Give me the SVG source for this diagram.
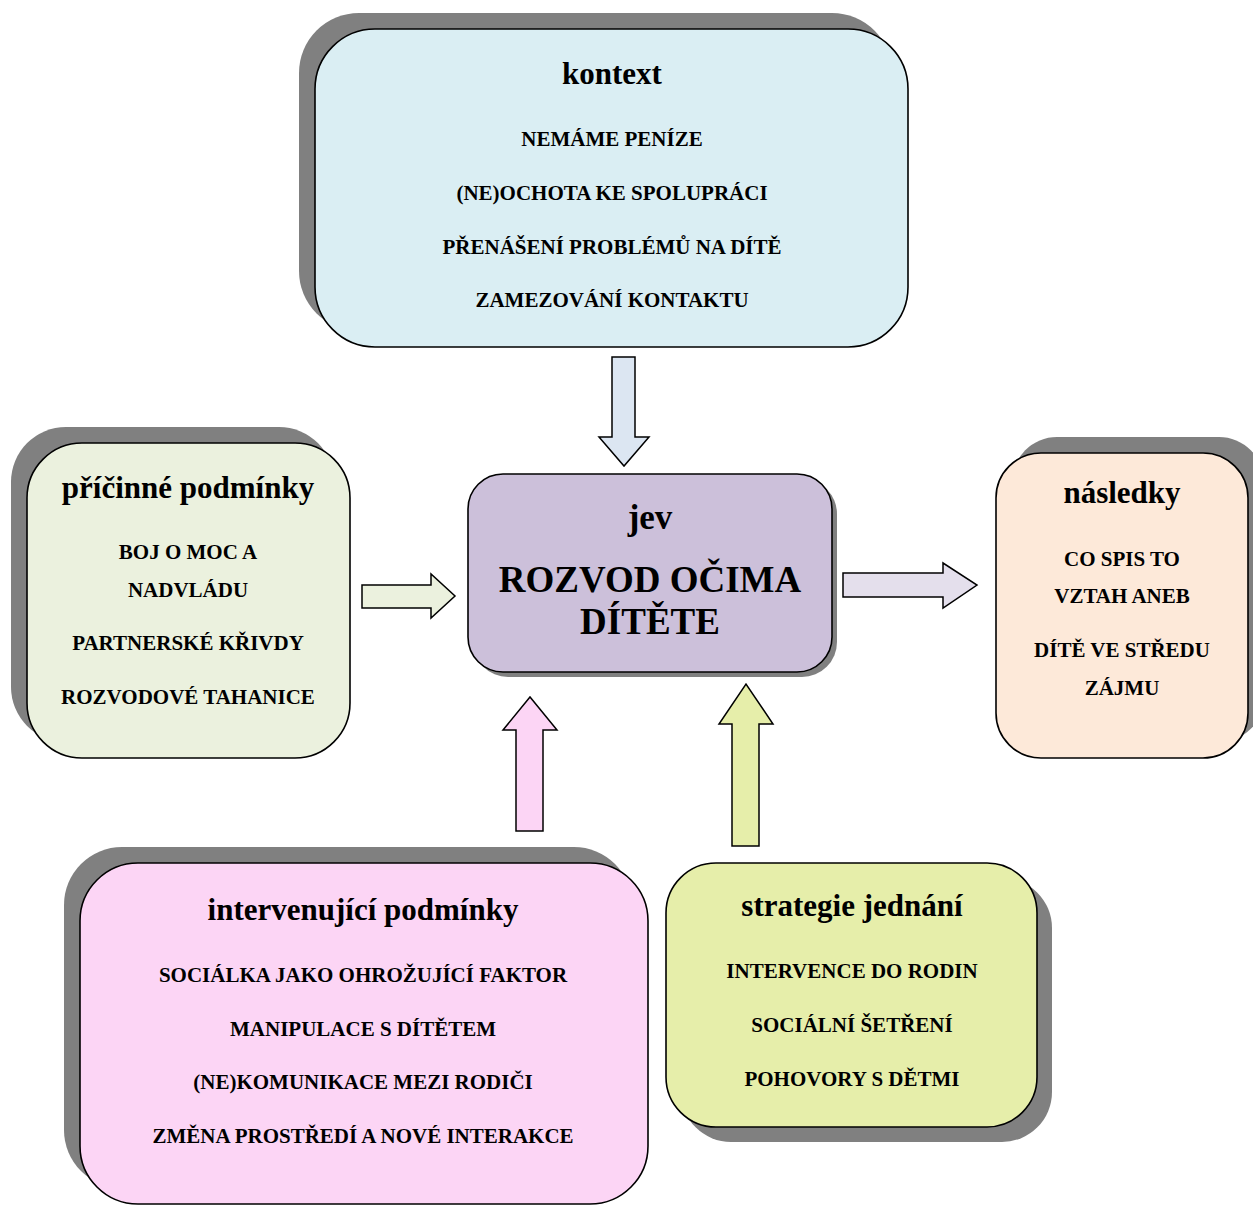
<svg xmlns="http://www.w3.org/2000/svg" width="1253" height="1205" viewBox="0 0 1253 1205">
<style>
.sh{fill:#808080}
.box{stroke:#000;stroke-width:1.6}
.arr{stroke:#000;stroke-width:1.5;stroke-linejoin:miter}
text{font-family:"Liberation Serif","Times New Roman",serif;font-weight:bold;fill:#000;text-anchor:middle}
.t{font-size:31px}
.i{font-size:21px}
.big{font-size:37px}
</style>
<rect width="1253" height="1205" fill="#fff"/>
<g id="connectors">
<path class="arr" fill="#DCE6F2" d="M612,357 H635 V437 H649 L624,466 L599,437 H612 Z"/>
<path class="arr" fill="#EBF1DE" d="M362,585 H431 V574 L455,596 L431,618 V608 H362 Z"/>
<path class="arr" fill="#E4DFEC" d="M843,573 H943 V563 L977,585 L943,608 V597 H843 Z"/>
<path class="arr" fill="#FCD5F5" d="M516,831 V730 H503 L530,697 L557,730 H543 V831 Z"/>
<path class="arr" fill="#E6EEAA" d="M732,846 V724 H719 L746,684 L773,724 H759 V846 Z"/>
</g>
<g id="kontext">
<rect class="sh" x="299" y="13" width="593" height="318" rx="60"/>
<rect class="box" x="315" y="29" width="593" height="318" rx="60" fill="#DAEEF3"/>
<text class="t" x="612" y="84">kontext</text>
<text class="i" x="612" y="146">NEMÁME PENÍZE</text>
<text class="i" x="612" y="200">(NE)OCHOTA KE SPOLUPRÁCI</text>
<text class="i" x="612" y="254">PŘENÁŠENÍ PROBLÉMŮ NA DÍTĚ</text>
<text class="i" x="612" y="307">ZAMEZOVÁNÍ KONTAKTU</text>
</g>
<g id="pricinne">
<rect class="sh" x="11" y="427" width="323" height="315" rx="55"/>
<rect class="box" x="27" y="443" width="323" height="315" rx="55" fill="#EBF1DE"/>
<text class="t" x="188" y="498">příčinné podmínky</text>
<text class="i" x="188" y="559">BOJ O MOC A</text>
<text class="i" x="188" y="597">NADVLÁDU</text>
<text class="i" x="188" y="650">PARTNERSKÉ KŘIVDY</text>
<text class="i" x="188" y="704">ROZVODOVÉ TAHANICE</text>
</g>
<g id="jev">
<rect class="sh" x="473" y="479" width="364" height="198" rx="35"/>
<rect class="box" x="468" y="474" width="364" height="198" rx="35" fill="#CCC0DA"/>
<text x="650" y="529" font-size="35">jev</text>
<text class="big" x="650" y="592">ROZVOD OČIMA</text>
<text class="big" x="650" y="634">DÍTĚTE</text>
</g>
<g id="nasledky">
<rect class="sh" x="1012" y="437" width="252" height="305" rx="45"/>
<rect class="box" x="996" y="453" width="252" height="305" rx="45" fill="#FDE9D9"/>
<text class="t" x="1122" y="503">následky</text>
<text class="i" x="1122" y="566">CO SPIS TO</text>
<text class="i" x="1122" y="603">VZTAH ANEB</text>
<text class="i" x="1122" y="657">DÍTĚ VE STŘEDU</text>
<text class="i" x="1122" y="695">ZÁJMU</text>
</g>
<g id="intervenujici">
<rect class="sh" x="64" y="847" width="568" height="341" rx="58"/>
<rect class="box" x="80" y="863" width="568" height="341" rx="58" fill="#FCD5F5"/>
<text class="t" x="363" y="920">intervenující podmínky</text>
<text class="i" x="363" y="982">SOCIÁLKA JAKO OHROŽUJÍCÍ FAKTOR</text>
<text class="i" x="363" y="1036">MANIPULACE S DÍTĚTEM</text>
<text class="i" x="363" y="1089">(NE)KOMUNIKACE MEZI RODIČI</text>
<text class="i" x="363" y="1143">ZMĚNA PROSTŘEDÍ A NOVÉ INTERAKCE</text>
</g>
<g id="strategie">
<rect class="sh" x="681" y="878" width="371" height="264" rx="50"/>
<rect class="box" x="666" y="863" width="371" height="264" rx="50" fill="#E6EEAA"/>
<text class="t" x="852" y="916">strategie jednání</text>
<text class="i" x="852" y="978">INTERVENCE DO RODIN</text>
<text class="i" x="852" y="1032">SOCIÁLNÍ ŠETŘENÍ</text>
<text class="i" x="852" y="1086">POHOVORY S DĚTMI</text>
</g>
</svg>
